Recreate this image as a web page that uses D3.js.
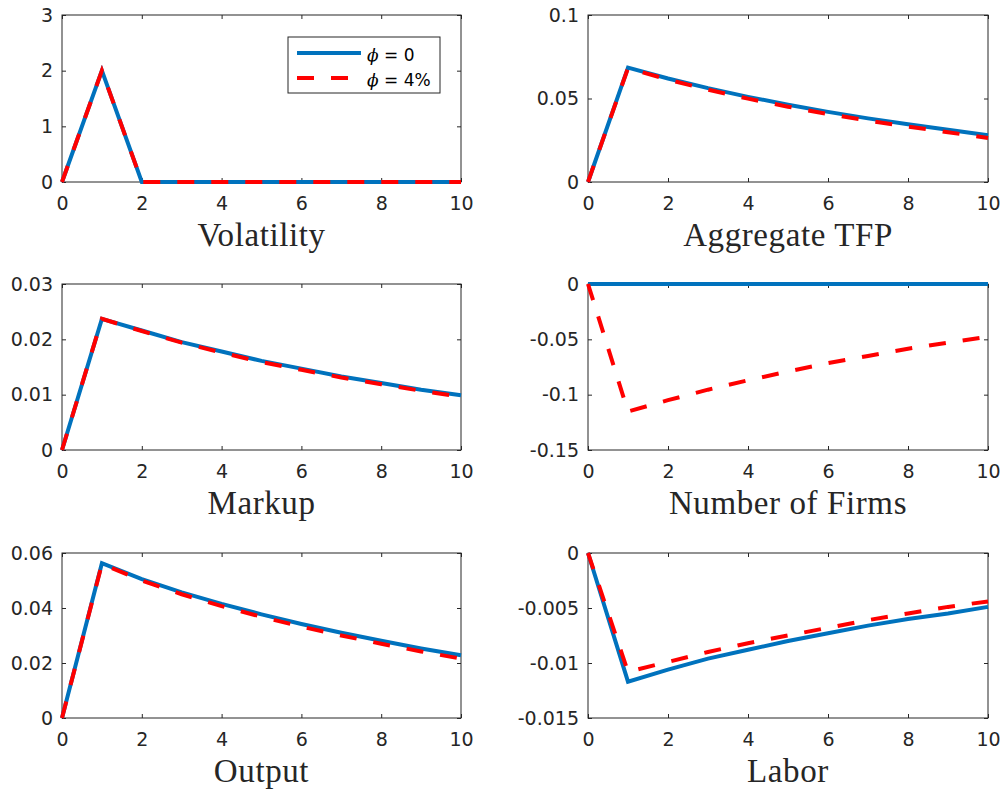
<!DOCTYPE html>
<html>
<head>
<meta charset="utf-8">
<script src="https://cdn.jsdelivr.net/npm/d3@7"></script>
<style>
  html, body { margin: 0; padding: 0; background: #fff; }
  svg { display: block; }
</style>
</head>
<body>
<svg id="chart" width="1005" height="795"></svg>
<script>
// ---------------- data ----------------
const periods = [0, 1, 2, 3, 4, 5, 6, 7, 8, 9, 10];

const volatilityBase = [0, 2, 0, 0, 0, 0, 0, 0, 0, 0, 0];
const volatilityPhi = [0, 2, 0, 0, 0, 0, 0, 0, 0, 0, 0];

const tfpBase = [0, 0.0685, 0.0620, 0.0562, 0.0510, 0.0463, 0.0420, 0.0381, 0.0346, 0.0313, 0.0280];
const tfpPhi = [0, 0.0682, 0.0613, 0.0553, 0.0499, 0.0451, 0.0407, 0.0368, 0.0332, 0.0298, 0.0264];

const markupBase = [0, 0.0237, 0.0216, 0.0195, 0.0178, 0.0161, 0.0147, 0.0133, 0.0121, 0.0109, 0.0099];
const markupPhi = [0, 0.0237, 0.0215, 0.0194, 0.0176, 0.0159, 0.0145, 0.0131, 0.0119, 0.0107, 0.0096];

const firmsBase = [0, 0, 0, 0, 0, 0, 0, 0, 0, 0, 0];
const firmsPhi = [0, -0.1152, -0.1050, -0.0955, -0.0870, -0.0790, -0.0715, -0.0650, -0.0585, -0.0530, -0.0477];

const outputBase = [0, 0.0563, 0.0505, 0.0457, 0.0415, 0.0377, 0.0342, 0.0310, 0.0281, 0.0253, 0.0228];
const outputPhi = [0, 0.0560, 0.0500, 0.0450, 0.0407, 0.0368, 0.0332, 0.0300, 0.0270, 0.0242, 0.0216];

const laborBase = [0, -0.0117, -0.0106, -0.0096, -0.0088, -0.0080, -0.0073, -0.0066, -0.0060, -0.0055, -0.0049];
const laborPhi = [0, -0.0108, -0.0099, -0.0090, -0.0082, -0.0075, -0.0068, -0.0061, -0.0055, -0.0049, -0.0044];

const panelTitles = ["Volatility", "Aggregate TFP", "Markup", "Number of Firms", "Output", "Labor"];

const xTicks = [0, 2, 4, 6, 8, 10];
const xTickLabels = ["0", "2", "4", "6", "8", "10"];

const volTicks = [0, 1, 2, 3];           const volTickLabels = ["0", "1", "2", "3"];
const tfpTicks = [0, 0.05, 0.1];          const tfpTickLabels = ["0", "0.05", "0.1"];
const markupTicks = [0, 0.01, 0.02, 0.03]; const markupTickLabels = ["0", "0.01", "0.02", "0.03"];
const firmsTicks = [-0.15, -0.1, -0.05, 0]; const firmsTickLabels = ["-0.15", "-0.1", "-0.05", "0"];
const outputTicks = [0, 0.02, 0.04, 0.06]; const outputTickLabels = ["0", "0.02", "0.04", "0.06"];
const laborTicks = [-0.015, -0.01, -0.005, 0]; const laborTickLabels = ["-0.015", "-0.01", "-0.005", "0"];

const legendLabels = ["= 0", "= 4%"];

// ---------------- layout ----------------
const colX = [[62, 461], [588, 988]];
const rowY = [[15, 182], [284, 450], [553, 718]];
const BLUE = "#0072BD", RED = "#FF0000", AX = "#262626";

const panels = [
  { title: panelTitles[0], base: volatilityBase, phi: volatilityPhi, domain: [0, 3], ticks: volTicks, labels: volTickLabels, legend: true },
  { title: panelTitles[1], base: tfpBase, phi: tfpPhi, domain: [0, 0.1], ticks: tfpTicks, labels: tfpTickLabels },
  { title: panelTitles[2], base: markupBase, phi: markupPhi, domain: [0, 0.03], ticks: markupTicks, labels: markupTickLabels },
  { title: panelTitles[3], base: firmsBase, phi: firmsPhi, domain: [-0.15, 0], ticks: firmsTicks, labels: firmsTickLabels },
  { title: panelTitles[4], base: outputBase, phi: outputPhi, domain: [0, 0.06], ticks: outputTicks, labels: outputTickLabels },
  { title: panelTitles[5], base: laborBase, phi: laborPhi, domain: [-0.015, 0], ticks: laborTicks, labels: laborTickLabels }
];

const svg = d3.select("#chart");
svg.append("rect").attr("width", 1005).attr("height", 795).attr("fill", "#fff");

const tickFont = "'DejaVu Sans', 'Liberation Sans', Arial, sans-serif";
const titleFont = "'Liberation Serif', 'Times New Roman', serif";

panels.forEach((p, i) => {
  const [x0, x1] = colX[i % 2];
  const [y0, y1] = rowY[Math.floor(i / 2)];
  const x = d3.scaleLinear().domain([0, 10]).range([x0, x1]);
  const y = d3.scaleLinear().domain(p.domain).range([y1, y0]);
  const g = svg.append("g");

  const styleAxis = sel => {
    sel.select(".domain").remove();
    sel.selectAll(".tick line").attr("stroke", AX).attr("stroke-width", 1);
    sel.selectAll(".tick text").attr("fill", AX).style("font-family", tickFont).style("font-size", "19px");
  };
  const yMap = new Map(p.ticks.map((t, k) => [t, p.labels[k]]));
  const xMap = new Map(xTicks.map((t, k) => [t, xTickLabels[k]]));

  g.append("g").attr("transform", `translate(0,${y1})`)
    .call(d3.axisBottom(x).tickValues(xTicks).tickSize(-4).tickPadding(15).tickFormat(d => xMap.get(d)))
    .call(styleAxis);
  g.append("g").attr("transform", `translate(0,${y0})`)
    .call(d3.axisTop(x).tickValues(xTicks).tickSize(-4).tickFormat(""))
    .call(styleAxis);
  g.append("g").attr("transform", `translate(${x0},0)`)
    .call(d3.axisLeft(y).tickValues(p.ticks).tickSize(-4).tickPadding(9).tickFormat(d => yMap.get(d)))
    .call(styleAxis);
  g.append("g").attr("transform", `translate(${x1},0)`)
    .call(d3.axisRight(y).tickValues(p.ticks).tickSize(-4).tickFormat(""))
    .call(styleAxis);

  g.append("rect").attr("x", x0).attr("y", y0).attr("width", x1 - x0).attr("height", y1 - y0)
    .attr("fill", "none").attr("stroke", AX).attr("stroke-width", 1);

  const line = d3.line().x((d, k) => x(periods[k])).y(d => y(d));
  g.append("path").datum(p.base).attr("d", line)
    .attr("fill", "none").attr("stroke", BLUE).attr("stroke-width", 4).attr("stroke-linejoin", "miter");
  g.append("path").datum(p.phi).attr("d", line)
    .attr("fill", "none").attr("stroke", RED).attr("stroke-width", 4).attr("stroke-dasharray", "17,17");

  g.append("text").attr("x", (x0 + x1) / 2).attr("y", y1 + 64)
    .attr("text-anchor", "middle").attr("fill", AX)
    .style("font-family", titleFont).style("font-size", "33px").style("letter-spacing", "0.6px")
    .text(p.title);

  if (p.legend) {
    const lg = g.append("g");
    lg.append("rect").attr("x", 288).attr("y", 37).attr("width", 152).attr("height", 56)
      .attr("fill", "#fff").attr("stroke", AX).attr("stroke-width", 1);
    const items = [{ c: BLUE, dash: null, ly: 53, label: legendLabels[0] }, { c: RED, dash: "17,17", ly: 78, label: legendLabels[1] }];
    items.forEach(it => {
      const l = lg.append("line").attr("x1", 297).attr("x2", 361).attr("y1", it.ly).attr("y2", it.ly)
        .attr("stroke", it.c).attr("stroke-width", 4);
      if (it.dash) l.attr("stroke-dasharray", it.dash);
      const t = lg.append("text").attr("x", 367).attr("y", it.ly + 8).attr("fill", "#000")
        .style("font-family", tickFont).style("font-size", "17px");
      t.append("tspan").style("font-family", "'DejaVu Serif', serif").style("font-style", "italic").text("ϕ");
      t.append("tspan").text(" " + it.label);
    });
  }
});
</script>
</body>
</html>
